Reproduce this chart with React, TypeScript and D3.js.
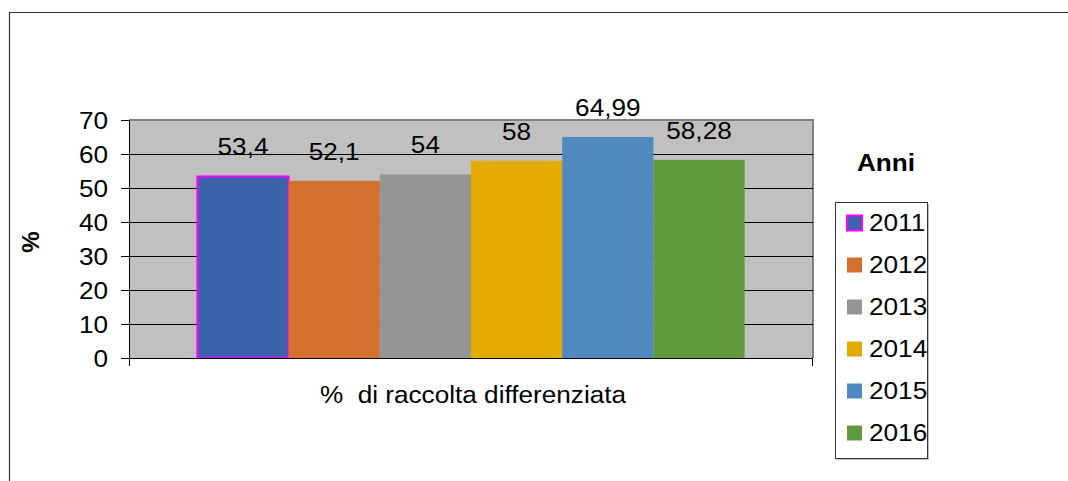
import React from "react";
import * as d3 from "d3";

// Percentuale di raccolta differenziata per anno
const years = ["2011", "2012", "2013", "2014", "2015", "2016"];
const values = [53.4, 52.1, 54, 58, 64.99, 58.28];
const colors = ["#3B63AB", "#D3702D", "#959595", "#E3AA00", "#4F89BD", "#619A3D"];
const yTicks = [0, 10, 20, 30, 40, 50, 60, 70];
const category = "%  di raccolta differenziata";
const legendTitle = "Anni";
const yTitle = "%";

const W = 1068;
const H = 481;
const plot = { left: 129, right: 813, top: 120, bottom: 358 };
const font = "'Liberation Sans', Arial, sans-serif";
const STRETCH = 1.09; // text is slightly wider than tall in this chart

function T({
  x,
  y,
  anchor = "start",
  bold = false,
  children,
}: {
  x: number;
  y: number;
  anchor?: "start" | "middle" | "end";
  bold?: boolean;
  children: React.ReactNode;
}) {
  return (
    <text
      transform={`translate(${x},${y}) scale(${STRETCH},1)`}
      textAnchor={anchor}
      fontSize={24}
      fontWeight={bold ? "bold" : "normal"}
      fill="#000"
      style={{ whiteSpace: "pre" }}
    >
      {children}
    </text>
  );
}

export default function App() {
  const y = d3.scaleLinear().domain([0, 70]).range([plot.bottom, plot.top]);
  // one category, six series; 150% gap width split on both sides
  const x = d3
    .scaleBand<string>()
    .domain(years)
    .range([plot.left, plot.right])
    .paddingInner(0)
    .paddingOuter(0.75);
  const fmt = (v: number) => String(v).replace(".", ",");

  const legend = { x: 835, y: 202, w: 92, h: 256, step: 42, first: 223 };

  return (
    <svg
      width={W}
      height={H}
      style={{ position: "absolute", left: 0, top: 0, display: "block" }}
      fontFamily={font}
    >
      <rect x={0} y={0} width={W} height={H} fill="#fff" />
      {/* outer frame */}
      <path d={`M9.5,${H} V12.5 H${W}`} fill="none" stroke="#333" strokeWidth={1.2} />

      {/* plot area */}
      <rect
        x={plot.left}
        y={plot.top}
        width={plot.right - plot.left}
        height={plot.bottom - plot.top}
        fill="#C0C0C0"
      />
      <path
        d={`M${plot.left},${plot.top} H${plot.right} V${plot.bottom}`}
        fill="none"
        stroke="#808080"
        strokeWidth={2}
      />

      {/* gridlines */}
      {yTicks.filter((t) => t > 0 && t < 70).map((t) => (
        <line
          key={t}
          x1={121}
          x2={plot.right}
          y1={Math.round(y(t)) + 0.5}
          y2={Math.round(y(t)) + 0.5}
          stroke="#000"
          strokeWidth={1}
        />
      ))}
      {/* y ticks and labels */}
      {yTicks.map((t) => (
        <g key={"t" + t}>
          <line x1={121} x2={plot.left} y1={Math.round(y(t)) + 0.5} y2={Math.round(y(t)) + 0.5} stroke="#000" />
          <T x={108} y={y(t) + 8.5} anchor="end">
            {t}
          </T>
        </g>
      ))}

      {/* bars */}
      {years.map((yr, i) => (
        <rect
          key={yr}
          x={x(yr)!}
          y={y(values[i])}
          width={x.bandwidth()}
          height={plot.bottom - y(values[i])}
          fill={colors[i]}
          stroke={i === 0 ? "#FF00FF" : "none"}
          strokeWidth={i === 0 ? 2 : 0}
        />
      ))}

      {/* axes */}
      <line x1={plot.left + 0.5} x2={plot.left + 0.5} y1={plot.top} y2={366} stroke="#000" />
      <line x1={plot.right - 0.5} x2={plot.right - 0.5} y1={plot.bottom} y2={366} stroke="#000" />
      <line x1={121} x2={plot.right} y1={plot.bottom + 0.5} y2={plot.bottom + 0.5} stroke="#000" />

      {/* value labels */}
      {years.map((yr, i) => (
        <T key={"l" + yr} x={x(yr)! + x.bandwidth() / 2} y={y(values[i]) - 21} anchor="middle">
          {fmt(values[i])}
        </T>
      ))}

      {/* axis titles */}
      <T x={473} y={403} anchor="middle">
        {category}
      </T>
      <text
        transform={`translate(39,242) rotate(-90)`}
        textAnchor="middle"
        fontSize={24}
        fontWeight="bold"
        fill="#000"
      >
        {yTitle}
      </text>

      {/* legend */}
      <T x={886} y={171} anchor="middle" bold>
        {legendTitle}
      </T>
      <rect x={legend.x + 2} y={legend.y + 2} width={legend.w} height={legend.h} fill="#bbb" />
      <rect
        x={legend.x + 0.5}
        y={legend.y + 0.5}
        width={legend.w}
        height={legend.h}
        fill="#fff"
        stroke="#333"
        strokeWidth={1}
      />
      {years.map((yr, i) => {
        const cy = legend.first + i * legend.step;
        return (
          <g key={"lg" + yr}>
            <rect
              x={847}
              y={cy - 7.5}
              width={15}
              height={15}
              fill={colors[i]}
              stroke={i === 0 ? "#FF00FF" : "none"}
              strokeWidth={i === 0 ? 2 : 0}
            />
            <T x={869} y={cy + 8}>
              {yr}
            </T>
          </g>
        );
      })}
    </svg>
  );
}
